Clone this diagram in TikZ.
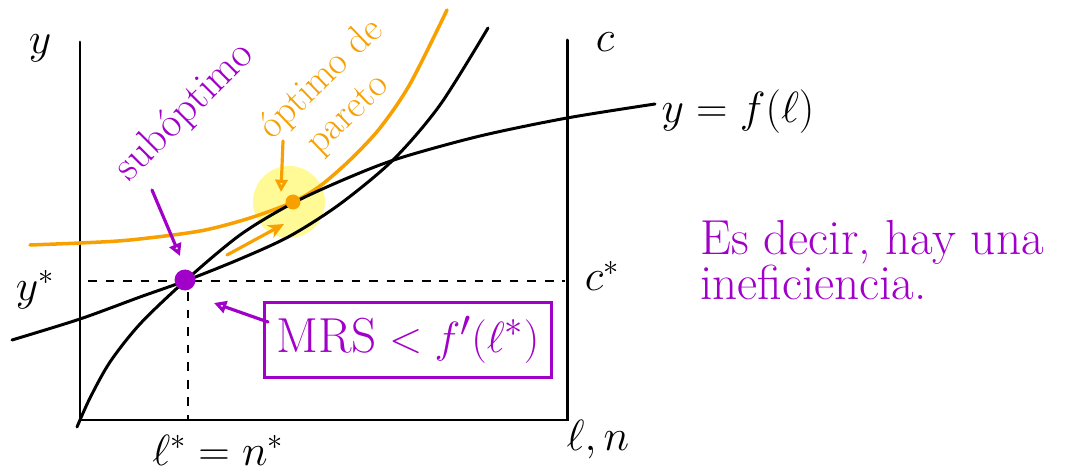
\documentclass[tikz,border=0pt]{standalone}
\usetikzlibrary{arrows.meta}
\definecolor{purp}{RGB}{160,0,200}
\definecolor{orng}{RGB}{247,160,0}
\definecolor{hil}{RGB}{255,250,150}
\begin{document}
\begin{tikzpicture}[x=0.02cm,y=-0.02cm,
  axis/.style={line width=1.7pt,line cap=round},
  curve/.style={line width=1.7pt,line cap=round},
  ocurve/.style={line width=2pt,color=orng,line cap=round},
  guide/.style={line width=1pt,dashed,dash pattern=on 5pt off 5pt},
  lbl/.style={inner sep=0pt,font=\fontsize{24}{28}\selectfont},
  plbl/.style={inner sep=0pt,text=purp,font=\fontsize{24}{28}\selectfont},
  olbl/.style={inner sep=0pt,text=orng,font=\fontsize{22}{26}\selectfont},
  parrow/.style={line width=1.8pt,color=purp,line cap=round,-{Triangle[open,length=7pt,width=7pt]}},
  oarrow/.style={line width=1.8pt,color=orng,line cap=round,-{Stealth[length=9pt,width=8pt]}}]
\useasboundingbox (0,0) rectangle (1081,472);

% highlight
\fill[hil] (289,202) circle (36);

% axes (box)
\draw[axis] (80,42) -- (80,420) -- (567,420) -- (567,40);

% guides
\coordinate (hl) at (88,281);
\coordinate (hr) at (565,281);
\coordinate (vt) at (188,292);
\coordinate (vb) at (188,420);
\draw[guide] (hl) -- (hr);
\draw[guide] (vt) -- (vb);

% orange indifference curve
\draw[ocurve] plot[smooth] coordinates {(30,245) (80,243) (130,240) (200,231) (250,218) (293,202) (320,186) (350,160) (380,128) (410,84) (447,10)};

% indifference curve through suboptimal point
\draw[curve] plot[smooth] coordinates {(12,340) (80,319) (140,297) (185,281) (240,259) (290,236) (340,204) (393,160) (440,105) (488,28)};

% production function
\draw[curve] plot[smooth] coordinates {(77,427) (90,398) (110,362) (140,324) (185,281) (240,235) (293,203) (350,177) (400,158) (480,136) (567,118) (655,104)};

% points
\node[circle,fill=purp,inner sep=0pt,minimum size=0.42cm] (sub) at (185,280) {};
\node[circle,fill=orng,inner sep=0pt,minimum size=0.3cm] (opt) at (293,202) {};

% axis labels
\node[lbl] (ly) at (40,48) {$y$};
\node[lbl] (lc) at (605,42) {$c$};
\node[lbl] (lys) at (35,290) {$y^{*}$};
\node[lbl] (lcs) at (602,276) {$c^{*}$};
\node[lbl] (lls) at (218,450) {$\ell^{*}=n^{*}$};
\node[lbl] (lln) at (598,440) {$\ell,n$};
\node[lbl,font=\fontsize{30}{34}\selectfont] (lf) at (738,112) {$y=f(\ell)$};

% purple annotations
\node[plbl,rotate=45] (tsub) at (185,112) {subóptimo};
\coordinate (sa) at (152,190);
\coordinate (sb) at (180,256);
\draw[parrow] (sa) -- (sb);

\node[plbl,draw=purp,line width=1.8pt,minimum width=5.74cm,minimum height=1.5cm,font=\fontsize{28}{32}\selectfont] (mrs) at (408,340) {MRS${}<f'(\ell^{*})$};
\coordinate (ma) at (268,322);
\coordinate (mb) at (214,303);
\draw[parrow] (ma) -- (mb);

\node[plbl,anchor=west,align=left,font=\fontsize{28}{26}\selectfont] (note) at (700,260) {Es decir, hay una\\ineficiencia.};

% orange annotations
\node[olbl,rotate=44,align=left,font=\fontsize{22}{25}\selectfont] (topt) at (337,95) {óptimo de\\\hspace*{0.6em}pareto};
\coordinate (oa) at (283,141);
\coordinate (ob) at (281,192);
\draw[parrow,color=orng] (oa) -- (ob);
\coordinate (ga) at (227,255);
\coordinate (gb) at (284,224);
\draw[oarrow] (ga) -- (gb);
\end{tikzpicture}
\end{document}
